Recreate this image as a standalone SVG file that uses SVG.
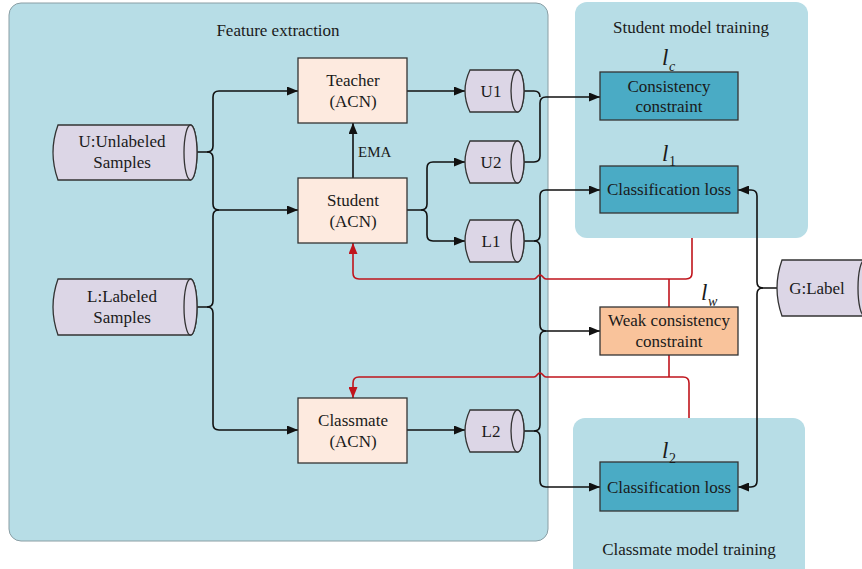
<svg xmlns="http://www.w3.org/2000/svg" width="862" height="569" viewBox="0 0 862 569">
  <style>
    text { font-family: "Liberation Serif", "Times New Roman", serif; fill: #1a1a1a; }
    .t { font-size: 17px; text-anchor: middle; }
    .title { font-size: 17px; text-anchor: middle; }
    .ema { font-size: 15px; }
    .sym { font-size: 23px; font-style: italic; }
    .sub { font-size: 14px; font-style: italic; }
    .subn { font-size: 14px; }
    .panel { fill: #b7dde6; }
    .cyl { fill: #dcd6e6; stroke: #333; stroke-width: 1.3; }
    .net { fill: #fdeadf; stroke: #333; stroke-width: 1.3; }
    .loss { fill: #4aabc5; stroke: #333; stroke-width: 1.3; }
    .weak { fill: #f9c39b; stroke: #333; stroke-width: 1.3; }
    .wire { fill: none; stroke: #111; stroke-width: 1.6; }
    .red { fill: none; stroke: #c0141c; stroke-width: 1.6; }
  </style>
  <defs>
    <marker id="arrow" markerUnits="userSpaceOnUse" markerWidth="11" markerHeight="9" refX="11" refY="4.5" orient="auto">
      <path d="M0,0 L11,4.5 L0,9 z" fill="#111"/>
    </marker>
    <marker id="arrowRed" markerUnits="userSpaceOnUse" markerWidth="11" markerHeight="9" refX="11" refY="4.5" orient="auto">
      <path d="M0,0 L11,4.5 L0,9 z" fill="#c0141c"/>
    </marker>
  </defs>

  <rect width="862" height="569" fill="#ffffff"/>

  <!-- panels -->
  <g id="panel-feature">
    <rect class="panel" x="9" y="3" width="539" height="538" rx="12" stroke="#8a9ea4" stroke-width="1"/>
    <text class="title" x="278" y="36">Feature extraction</text>
  </g>
  <g id="panel-student">
    <rect class="panel" x="575" y="2" width="233" height="236" rx="12"/>
    <text class="title" x="691" y="33">Student model training</text>
  </g>
  <g id="panel-classmate">
    <rect class="panel" x="573" y="418" width="232" height="170" rx="12"/>
    <text class="title" x="689" y="555">Classmate model training</text>
  </g>

  <!-- connectors -->
  <g id="connectors">
    <!-- inputs to networks -->
    <path class="wire" d="M197,152 H207 Q213,152 213,146 V97 Q213,91 219,91 H298" marker-end="url(#arrow)"/>
    <path class="wire" d="M207,152 Q213,152 213,158 V204 Q213,210 219,210 H298" marker-end="url(#arrow)"/>
    <path class="wire" d="M197,307 H207 Q213,307 213,301 V216 Q213,210 219,210"/>
    <path class="wire" d="M207,307 Q213,307 213,313 V424 Q213,430 219,430 H298" marker-end="url(#arrow)"/>
    <!-- EMA -->
    <path class="wire" d="M353,178 V123" marker-end="url(#arrow)"/>
    <!-- network outputs -->
    <path class="wire" d="M407,91 H465" marker-end="url(#arrow)"/>
    <path class="wire" d="M407,210 H421 Q427,210 427,204 V168 Q427,162 433,162 H465" marker-end="url(#arrow)"/>
    <path class="wire" d="M421,210 Q427,210 427,216 V235 Q427,241 433,241 H465" marker-end="url(#arrow)"/>
    <path class="wire" d="M407,430 H465" marker-end="url(#arrow)"/>
    <!-- predictions to losses -->
    <path class="wire" d="M524,91 H534 Q540,91 540,97"/>
    <path class="wire" d="M524,162 H534 Q540,162 540,156 V103 Q540,97 546,97 H600" marker-end="url(#arrow)"/>
    <path class="wire" d="M524,241 H534 Q540,241 540,235 V196 Q540,190 546,190 H600" marker-end="url(#arrow)"/>
    <path class="wire" d="M534,241 Q540,241 540,247 V325 Q540,331 546,331 H600" marker-end="url(#arrow)"/>
    <path class="wire" d="M524,431 H534 Q540,431 540,425 V337 Q540,331 546,331"/>
    <path class="wire" d="M534,431 Q540,431 540,437 V481 Q540,487 546,487 H600" marker-end="url(#arrow)"/>
    <!-- ground-truth labels -->
    <path class="wire" d="M777,288 H763 Q757,288 757,282 V196 Q757,190 751,190 H738" marker-end="url(#arrow)"/>
    <path class="wire" d="M763,288 Q757,288 757,294 V481 Q757,487 751,487 H738" marker-end="url(#arrow)"/>
    <!-- feedback paths -->
    <path class="red" d="M692,238 V273 Q692,279 686,279 H546 C543,279 543,275 540,275 C537,275 537,279 534,279 H359 Q353,279 353,273 V243" marker-end="url(#arrowRed)"/>
    <path class="red" d="M669,279 V307"/>
    <path class="red" d="M669,355 V377"/>
    <path class="red" d="M689,418 V383 Q689,377 683,377 H546 C543,377 543,373 540,373 C537,373 537,377 534,377 H359 Q353,377 353,383 V398" marker-end="url(#arrowRed)"/>
  </g>

  <!-- data sources -->
  <g id="unlabeled">
    <path class="cyl" d="M58,125 H190.5 A6.5,27.5 0 0 1 190.5,180 H58 Q48,152.5 58,125 Z"/>
    <ellipse class="cyl" cx="190.5" cy="152.5" rx="6.5" ry="27.5"/>
    <text class="t" x="122" y="147">U:Unlabeled</text>
    <text class="t" x="122" y="168">Samples</text>
  </g>
  <g id="labeled">
    <path class="cyl" d="M58,279 H190.5 A6.5,28 0 0 1 190.5,335 H58 Q48,307 58,279 Z"/>
    <ellipse class="cyl" cx="190.5" cy="307" rx="6.5" ry="28"/>
    <text class="t" x="122" y="302">L:Labeled</text>
    <text class="t" x="122" y="323">Samples</text>
  </g>

  <!-- networks -->
  <g id="teacher">
    <rect class="net" x="298" y="58" width="109" height="65"/>
    <text class="t" x="353" y="86">Teacher</text>
    <text class="t" x="353" y="107">(ACN)</text>
  </g>
  <g id="student">
    <rect class="net" x="298" y="178" width="109" height="65"/>
    <text class="t" x="353" y="206">Student</text>
    <text class="t" x="353" y="227">(ACN)</text>
  </g>
  <g id="classmate">
    <rect class="net" x="298" y="398" width="109" height="65"/>
    <text class="t" x="353" y="426">Classmate</text>
    <text class="t" x="353" y="447">(ACN)</text>
  </g>
  <text class="ema" x="358" y="157">EMA</text>

  <!-- predictions -->
  <g id="u1">
    <path class="cyl" d="M470,70 H517.5 A6.5,21 0 0 1 517.5,112 H470 Q460,91 470,70 Z"/>
    <ellipse class="cyl" cx="517.5" cy="91" rx="6.5" ry="21"/>
    <text class="t" x="491" y="97">U1</text>
  </g>
  <g id="u2">
    <path class="cyl" d="M470,141 H517.5 A6.5,21 0 0 1 517.5,183 H470 Q460,162 470,141 Z"/>
    <ellipse class="cyl" cx="517.5" cy="162" rx="6.5" ry="21"/>
    <text class="t" x="491" y="168">U2</text>
  </g>
  <g id="l1">
    <path class="cyl" d="M470,220 H517.5 A6.5,21 0 0 1 517.5,262 H470 Q460,241 470,220 Z"/>
    <ellipse class="cyl" cx="517.5" cy="241" rx="6.5" ry="21"/>
    <text class="t" x="491" y="247">L1</text>
  </g>
  <g id="l2">
    <path class="cyl" d="M470,410 H517.5 A6.5,21 0 0 1 517.5,452 H470 Q460,431 470,410 Z"/>
    <ellipse class="cyl" cx="517.5" cy="431" rx="6.5" ry="21"/>
    <text class="t" x="491" y="437">L2</text>
  </g>

  <!-- losses -->
  <g id="consistency">
    <rect class="loss" x="600" y="72" width="138" height="48"/>
    <text class="t" x="669" y="92">Consistency</text>
    <text class="t" x="669" y="112">constraint</text>
    <text class="sym" x="662" y="65">l</text><text class="sub" x="669" y="71">c</text>
  </g>
  <g id="loss-student">
    <rect class="loss" x="600" y="166" width="138" height="47"/>
    <text class="t" x="669" y="195">Classification loss</text>
    <text class="sym" x="662" y="161">l</text><text class="subn" x="669" y="166">1</text>
  </g>
  <g id="weak-consistency">
    <rect class="weak" x="600" y="307" width="138" height="48"/>
    <text class="t" x="669" y="326">Weak consistency</text>
    <text class="t" x="669" y="347">constraint</text>
    <text class="sym" x="701" y="300">l</text><text class="sub" x="708" y="306">w</text>
  </g>
  <g id="loss-classmate">
    <rect class="loss" x="600" y="462" width="138" height="49"/>
    <text class="t" x="669" y="493">Classification loss</text>
    <text class="sym" x="662" y="458">l</text><text class="subn" x="669" y="463">2</text>
  </g>

  <!-- ground truth -->
  <g id="g-label">
    <path class="cyl" d="M782,260 H864.5 A6.5,28 0 0 1 864.5,316 H782 Q772,288 782,260 Z"/>
    <ellipse class="cyl" cx="864.5" cy="288" rx="6.5" ry="28"/>
    <text class="t" x="817" y="294">G:Label</text>
  </g>
</svg>
